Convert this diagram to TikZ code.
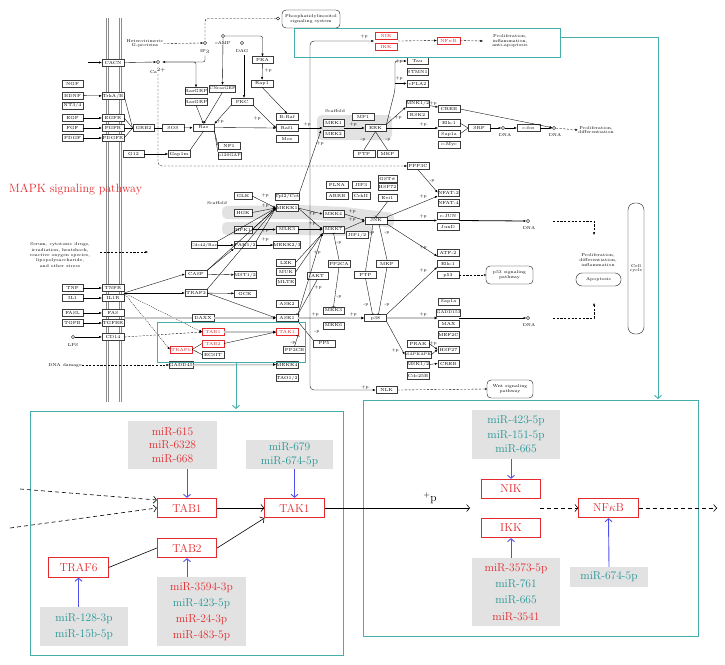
\documentclass[tikz,border=0pt]{standalone}
\usetikzlibrary{arrows.meta}
\definecolor{kred}{RGB}{228,42,46}
\definecolor{kteal}{RGB}{38,150,150}
\definecolor{tline}{RGB}{70,172,172}
\definecolor{mgray}{RGB}{226,226,226}
\definecolor{sgray}{RGB}{226,226,226}
\definecolor{hgray}{RGB}{200,200,200}
\definecolor{mblue}{RGB}{80,80,238}
\definecolor{memb}{RGB}{140,140,140}
\definecolor{kbord}{RGB}{60,60,60}
\tikzset{
 kb/.style={draw=kbord,line width=0.35pt,inner sep=0pt,minimum width=21.5pt,minimum height=7pt,fill=white,font=\fontsize{4.4}{4.8}\selectfont},
 kbr/.style={kb,draw=kred,text=kred},
 kt/.style={inner sep=0pt,align=center,font=\fontsize{4.2}{4.8}\selectfont},
 kl/.style={line width=0.35pt},
 ka/.style={kl,-{Latex[length=2.6pt,width=2.2pt]}},
 kd/.style={kl,dash pattern=on 2.2pt off 1.5pt},
 kda/.style={kd,-{Latex[length=2.6pt,width=2.2pt]}},
 kdo/.style={kd,-{Circle[open,length=2.2pt]}},
 kbar/.style={kl,-{Bar[width=3.5pt]}},
 kg/.style={draw=hgray,line width=1.5pt},
 kga/.style={kg,-{Latex[length=3pt,width=3pt,color=black]}},
 dnac/.style={circle,draw,line width=0.35pt,inner sep=0pt,minimum size=3.2pt,fill=white},
 rbox/.style={draw,line width=0.35pt,rounded corners=4pt,inner sep=0pt,align=center,font=\fontsize{4.2}{4.8}\selectfont},
 tealb/.style={draw=tline,line width=0.9pt},
 tarr/.style={tealb,-{Straight Barb[length=3pt,width=7pt]}},
 gbox/.style={draw=kred,line width=0.8pt,text=kred,minimum width=59.5pt,minimum height=19.5pt,inner sep=0pt,font=\fontsize{11.5}{13}\selectfont},
 mbox/.style={fill=mgray,inner sep=0pt,align=center},
 barr/.style={draw=mblue,line width=0.9pt,-{Straight Barb[length=3pt,width=7pt]}},
 oarr/.style={line width=0.6pt,-{Straight Barb[length=3pt,width=7pt]}},
 darr/.style={oarr,dash pattern=on 4pt off 3pt},
}
\newcommand{\kgn}[4]{\node[kb] (#1) at (#2,#3) {#4};}
\newcommand{\kgr}[4]{\node[kbr] (#1) at (#2,#3) {#4};}
\newcommand{\kgw}[5]{\node[kb,minimum width=#4] (#1) at (#2,#3) {#5};}
\begin{document}
\begin{tikzpicture}[x=1pt,y=-1pt]
\useasboundingbox (0,0) rectangle (725,664);
\fill[white] (0,0) rectangle (725,664);

% scaffold shading
\fill[sgray,rounded corners=5pt] (317,115) rectangle (392,140);
\fill[sgray,rounded corners=5pt] (222,206) -- (300,205) -- (345,207) -- (394,213) -- (394,228) -- (345,222) -- (300,219) -- (222,219) -- cycle;
\fill[sgray,rounded corners=5pt] (222,222) -- (345,222) -- (372,224) -- (372,236) -- (300,235) -- (222,235) -- cycle;

% membrane
\foreach \x in {106.5,108.5,119,121} \draw[memb,line width=0.6pt] (\x,18) -- (\x,402);

% ---------- top region ----------
\node[kt] (hetg) at (145,43.5) {Heterotrimeric\\G-proteins};
\node[dnac] (ip3) at (205,43) {};
\node[kt] (ip3l) at (205,51.5) {IP$_3$};
\node[dnac] (camp) at (223,36) {};
\node[kt] (campl) at (223,43.5) {cAMP};
\node[dnac] (dag) at (242,43) {};
\node[kt] (dagl) at (242,51) {DAG};
\node[dnac] (ca) at (158,62) {};
\node[kt] (cal) at (158,70.5) {Ca$^{2+}$};
\node[rbox,minimum width=58pt,minimum height=18pt] (phos) at (311,19) {Phosphatidylinositol\\signaling system};
\node[dnac] (phc) at (278,18.5) {};

\kgn{ngf}{72.5}{84}{NGF}
\kgn{bdnf}{72.5}{95.5}{BDNF}
\kgn{nt34}{72.5}{105.5}{NT3/4}
\kgn{egf}{72.5}{118}{EGF}
\kgn{fgf}{72.5}{128}{FGF}
\kgn{pdgf}{72.5}{138}{PDGF}
\kgw{cacn}{113}{62.5}{22}{CACN}
\kgw{trkab}{113}{96}{22}{TrkA/B}
\kgw{egfr}{113}{118}{22}{EGFR}
\kgw{fgfr}{113}{128}{22}{FGFR}
\kgw{pdgfr}{113}{138}{22}{PDGFR}
\kgn{grb2}{143.5}{128}{GRB2}
\kgn{sos}{173}{128}{SOS}
\kgn{ras}{203.5}{127.5}{Ras}
\kgn{g12}{133.5}{154}{G12}
\kgn{gap1m}{179}{154}{Gap1m}
\kgn{nf1}{229}{146}{NF1}
\node[kb,minimum width=23pt,font=\fontsize{4}{4.5}\selectfont] (p120) at (229.5,155.5) {p120GAP};
\kgn{rasgrp1}{196}{91}{RasGRP}
\kgn{rasgrp2}{196}{101.5}{RasGRP}
\node[kb,font=\fontsize{4}{4.5}\selectfont] (cnras) at (222.5,88.5) {CNrasGEF};
\kgn{pkc}{242}{101.5}{PKC}
\kgn{pka}{262.5}{60}{PKA}
\kgn{rap1}{262}{83.5}{Rap1}
\kgn{braf}{287}{117}{B-Raf}
\kgn{raf1}{287}{128}{Raf1}
\kgn{mos}{287}{139}{Mos}
\kgn{mek1}{333.5}{122.5}{MEK1}
\kgn{mek2}{333.5}{133.5}{MEK2}
\kgn{mp1}{363}{116.5}{MP1}
\kgn{erk}{375.5}{128}{ERK}
\kgn{ptpa}{364}{153.5}{PTP}
\kgn{mkpa}{387.5}{153.5}{MKP}
\kgn{tau}{417.5}{61}{Tau}
\kgn{stmn}{417.5}{72}{STMN1}
\kgn{cpla2}{417.5}{83.5}{cPLA2}
\kgn{mnk}{417.5}{103.5}{MNK1/2}
\kgn{rsk2}{417.5}{114.5}{RSK2}
\kgn{creba}{449}{109}{CREB}
\kgn{elka}{449}{123}{Elk-1}
\kgn{sapa}{449}{134}{Sap1a}
\kgn{cmyc}{449}{144.5}{c-Myc}
\kgn{srf}{479}{128}{SRF}
\kgw{cfos}{528.5}{128}{23}{c-fos}
\kgn{ppp3c}{418}{166}{PPP3C}
\node[dnac] (dna1) at (503,128) {};
\node[kt] (dna1l) at (505,135) {DNA};
\node[dnac] (dna2) at (554,128) {};
\node[kt] (dna2l) at (555,135) {DNA};
\node[kt] (prolif1) at (596,130) {Proliferation,\\differentiation};
\kgr{niks}{386}{35.5}{NIK}
\kgr{ikks}{386}{46.5}{IKK}
\node[kbr,minimum width=23pt] (nfkbs) at (448.5,40.5) {NF$\kappa$B};
\node[kt] (prolif0) at (510,41) {Proliferation,\\inflammation,\\anti-apoptosis};

\node[anchor=base west,inner sep=0pt,text=kred,font=\fontsize{12}{14}\selectfont] (title) at (9,192) {MAPK signaling pathway};

% top connectors
\draw[kda] (hetg.east) -- (ip3.west);
\draw[kd,rounded corners=3pt] (phc.west) -- (205,18.5) -- (ip3.north);
\coordinate (ip3d) at (205,55.5);
\coordinate (cae) at (162.5,62);
\draw[ka,rounded corners=2pt] (ip3d) -- (205,62) -- (cae);
\coordinate (caf) at (88,62.5);
\draw[ka] (caf) -- (cacn.west);
\draw[ka] (cacn.east) -- (ca.west);
\draw[ka,rounded corners=2pt] (cae) -- (196,62) -- (rasgrp1.north);
\draw[ka] (camp.south) -- (cnras.north);
\draw[ka,rounded corners=2pt] (camp.east) -- (262.5,36) -- (pka.north);
\coordinate (dagd) at (244,55);
\draw[ka] (dagd) -- (pkc.north -| dagd);
\coordinate (cad) at (158,74);
\draw[kda,rounded corners=4pt] (cad) -- (158,166) -- (ppp3c.west);
\foreach \a/\b in {bdnf/trkab,egf/egfr,fgf/fgfr,pdgf/pdgfr} \draw[ka] (\a) -- (\b);
\foreach \a in {trkab,egfr,fgfr,pdgfr} \draw[kl] (\a.east) -- (grb2.west);
\draw[kl] (grb2) -- (sos);
\draw[ka] (sos) -- (ras);
\draw[ka] (g12) -- (gap1m);
\draw[kl] (gap1m.north east) -- (ras.south);
\draw[kl] (nf1.west) -- (ras.south east);
\draw[kl] (p120.north west) -- (ras.south east);
\draw[ka] (rasgrp2.south) -- (ras.north);
\draw[ka] (cnras.south) -- (ras.north);
\draw[ka] (pkc.south west) -- (ras.north east);
\draw[ka] (pka) -- (rap1);
\draw[ka] (rap1.south) -- (braf.north);
\draw[ka] (pkc.south east) -- (raf1.west);
\draw[ka] (ras.east) -- (raf1.west);
\draw[ka] (raf1.east) -- (mek1.west |- raf1.east);
\draw[ka] (mek1.east |- erk.west) -- (erk.west);
\draw[kl] (erk.south) -- (ptpa.north);
\draw[kl] (erk.south) -- (mkpa.north);
\draw[ka,rounded corners=2pt] (erk.north east) -- (395,90) -- (395,61) -- (tau.west);
\draw[ka] (cpla2.west -| 395,0) -- (cpla2.west);
\draw[ka] (erk.north east) -- (mnk.south west);
\draw[ka] (mnk) -- (creba);
\draw[ka] (erk.east) -- (elka.west |- erk.east);
\draw[kl] (elka.east) -- (srf.west);
\draw[kl] (sapa.east) -- (srf.west);
\draw[ka] (srf) -- (dna1);
\draw[ka] (dna1) -- (cfos);
\draw[ka] (cfos) -- (dna2);
\draw[ka] (creba.east) -- (dna2);
\draw[kda] (dna2) -- (prolif1.west);

% long vertical connector
\coordinate (vmid) at (310,200);
\coordinate (nikin) at (374,41);
\draw[ka,rounded corners=4pt] (vmid) -- (310,41) -- (nikin);
\draw[kda] (398,41) -- (nfkbs.west);
\coordinate (nfo) at (483,41);
\draw[kda] (nfkbs.east) -- (nfo);

% teal frames (top)
\draw[tealb] (294,28) rectangle (560,57);
\coordinate (rt) at (658,399);
\draw[tarr] (560,37) -- (658,37) -- (rt);

% ---------- middle region ----------
\node[kt] (scaf1) at (335,111) {Scaffold};
\node[kt] (scaf2) at (217,203.5) {Scaffold};
\node[kt,font=\fontsize{4.2}{5.4}\selectfont] (serum) at (60,255) {Serum, cytotoxic drugs,\\irradiation, heatshock,\\reactive oxygen species,\\lipopolysaccharide,\\and other stress};
\coordinate (sa) at (100,252); \coordinate (sb) at (148,252);
\draw[kda] (sa) -- (sb);
\kgn{tnf}{72.5}{288}{TNF}
\kgn{il1}{72.5}{298}{IL1}
\kgn{fasl}{72.5}{313}{FASL}
\kgn{tgfb}{72.5}{323}{TGFB}
\node[dnac] (lps) at (73,337) {};
\node[kt] (lpsl) at (73,345) {LPS};
\kgw{tnfr}{113}{288}{22}{TNFR}
\kgw{il1r}{113}{298}{22}{IL1R}
\kgw{fas}{113}{313}{22}{FAS}
\kgw{tgfbr}{113}{323}{22}{TGFBR}
\kgw{cd14}{113}{337}{22}{CD14}
\kgw{glk}{243}{196}{18}{GLK}
\kgw{hgk}{243}{212.5}{18}{HGK}
\kgw{hpk1}{243}{229.5}{18}{HPK1}
\kgw{pak}{245}{245}{22}{PAK1/2}
\node[kb,minimum width=22pt,font=\fontsize{4}{4.5}\selectfont] (cdc42) at (204,245) {Cdc42/Rac};
\kgn{mst}{245}{275}{MST1/2}
\kgw{casp}{196}{274}{22}{CASP}
\kgw{traf2}{196}{293}{22}{TRAF2}
\kgn{gck}{245}{293.5}{GCK}
\kgn{daxx}{203}{317.5}{DAXX}
\kgr{tab1s}{213}{332}{TAB1}
\kgr{tab2s}{213}{343.5}{TAB2}
\kgn{ecsit}{213}{354.5}{ECSIT}
\node[kbr,minimum width=22pt] (traf6s) at (181,349.5) {TRAF6};
\kgw{gadd45}{181}{365}{22}{GADD45}
\kgw{tpl2}{287}{196.5}{22}{Tpl2/Cot}
\kgw{mekk1}{287}{208}{22}{MEKK1}
\kgw{mlk3}{287}{229.5}{22}{MLK3}
\kgw{mekk23}{287}{245}{22}{MEKK2/3}
\kgw{lzk}{286}{262.5}{19}{LZK}
\kgw{muk}{286}{272}{19}{MUK}
\kgw{mltk}{286}{282}{19}{MLTK}
\kgn{ask2}{287}{303.5}{ASK2}
\kgn{ask1}{287}{318}{ASK1}
\kgr{tak1s}{287}{332}{TAK1}
\kgw{pp2cb}{294.5}{350}{22}{PP2CB}
\kgn{mekk4}{287}{364.5}{MEKK4}
\kgn{tao}{287}{378}{TAO1/2}
\kgn{akt}{317.5}{275.5}{AKT}
\kgn{pp5}{324}{343.5}{PP5}
\kgw{pp2ca}{339}{263.5}{22}{PP2CA}
\kgn{mkk3}{333.5}{310.5}{MKK3}
\kgn{mkk6}{333.5}{325.5}{MKK6}
\kgn{mkk4}{333.5}{214}{MKK4}
\kgn{mkk7}{333.5}{229.5}{MKK7}
\kgn{jip12}{357}{235}{JIP1/2}
\kgw{flna}{337}{185}{22}{FLNA}
\kgw{jip3}{361}{185}{18}{JIP3}
\kgw{arrb}{337}{195.5}{22}{ARRB}
\kgw{crk}{361}{195.5}{18}{CrkII}
\kgw{gst}{387.5}{178.5}{19}{GST$\pi$}
\kgw{hsp72}{387.5}{187}{19}{HSP72}
\kgw{evi1}{387.5}{198}{19}{Evi1}
\kgw{jnk}{376}{220.5}{22}{JNK}
\kgw{ptpb}{365.5}{274.5}{22}{PTP}
\kgw{mkpb}{387}{263.5}{22}{MKP}
\kgw{p38}{375.5}{318}{22}{p38}
\kgn{nlk}{386.5}{390}{NLK}
\kgn{nfat2}{448.5}{192.5}{NFAT-2}
\kgn{nfat4}{448.5}{202.5}{NFAT-4}
\kgn{cjun}{448}{216}{c-JUN}
\kgn{jund}{448}{227}{JunD}
\kgn{atf2}{448}{252.5}{ATF-2}
\kgn{elkb}{448}{263.5}{Elk-1}
\kgn{p53}{448}{275}{p53}
\kgn{sapb}{448.5}{301.5}{Sap1a}
\node[kb,font=\fontsize{4}{4.5}\selectfont] (gadd153) at (448.5,312.5) {GADD153};
\kgn{max}{448.5}{323.5}{MAX}
\kgn{mef2c}{448.5}{334.5}{MEF2C}
\kgn{prak}{418}{343.5}{PRAK}
\node[kb,minimum width=23pt,font=\fontsize{3.8}{4.5}\selectfont] (mapkapk) at (418,354.5) {MAPKAPK};
\kgn{msk}{418}{364.5}{MSK1/2}
\kgn{cdc25b}{418}{375.5}{Cdc25B}
\kgn{hsp27}{448.5}{349.5}{HSP27}
\kgn{crebb}{448.5}{363.5}{CREB}
\node[dnac] (dna3) at (528,221) {};
\node[kt] (dna3l) at (529,228) {DNA};
\node[dnac] (dna4) at (528,318) {};
\node[kt] (dna4l) at (529,325) {DNA};
\node[rbox,minimum width=47pt,minimum height=18pt] (p53pw) at (509.5,275) {p53 signaling\\pathway};
\node[rbox,minimum width=46pt,minimum height=18pt] (wnt) at (510,389) {Wnt signaling\\pathway};
\node[kt] (prolif2) at (598,260) {Proliferation,\\differentiation,\\inflammation};
\node[rbox,minimum width=45pt,minimum height=13pt,rounded corners=6pt] (apop) at (598.5,279.5) {Apoptosis};
\node[rbox,minimum width=16pt,minimum height=131pt,rounded corners=7pt] (cellc) at (636,268.5) {Cell\\cycle};

% middle connectors
\draw[ka] (ppp3c.south) -- (nfat2.west);
\foreach \a/\b in {tnf/tnfr,il1/il1r,fasl/fas,tgfb/tgfbr,lps/cd14} \draw[ka] (\a) -- (\b);
\coordinate (tf) at (124,293);
\draw[ka] (tf) -- (casp.west);
\draw[ka] (tf) -- (traf2.west);
\draw[ka,dash pattern=on 1pt off 1pt] (tf) -- (tab1s.west);
\draw[ka,dash pattern=on 1pt off 1pt] (tf) -- (traf6s.west);
\coordinate (fasg) at (124,318);
\draw[kg] (fasg) -- (daxx.west |- fasg);
\draw[kga] (daxx.east |- ask1.west) -- (ask1.west);
\draw[kda] (cd14.east) -- (tab1s.west);
\draw[kga] (tab1s.east) -- (tak1s.west);
\draw[ka] (tab2s.east) -- (tak1s.west);
\draw[kl] (traf6s.east) -- (tab2s.west);
\draw[kl] (traf6s.east) -- (ecsit.west);
\node[kt] (dnad) at (65,365) {DNA damage};
\draw[kda] (dnad.east) -- (gadd45.west);
\draw[kga] (gadd45.east) -- (mekk4.west);
\draw[ka] (traf2.east) -- (ask1.west);
\draw[ka] (traf2) -- (gck);
\draw[ka] (casp) -- (mst);
\draw[ka] (casp.north east) -- (pak.south west);
\draw[kl] (casp.north east) -- (mekk1.west);
\draw[kl] (traf2.north east) -- (mekk1.west);
\draw[ka] (cdc42) -- (pak);
\draw[kl] (cdc42.north east) -- (mekk1.west);
\draw[ka] (pak.north east) -- (mekk1.west);
\draw[ka] (glk.east) -- (mekk1.west);
\draw[ka] (hgk.east) -- (mekk1.west);
\draw[ka] (hpk1.east) -- (mekk1.west);
\draw[ka] (hpk1) -- (mlk3);
\draw[ka] (pak) -- (mekk23);
\draw[ka] (tpl2.north east) -- (321,130.5);
\draw[ka] (mekk1.east) -- (mkk4.west);
\draw[ka] (mekk1.east) -- (mkk7.west);
\draw[ka] (mlk3) -- (mkk7);
\draw[ka] (mkk4.east) -- (jnk.west);
\draw[ka] (mkk7.east) -- (jnk.west);
\draw[kl] (lzk.east) -- (mkk7.south west);
\draw[ka] (muk.east) -- (mkk7.south west);
\draw[ka] (ask1.north east) -- (mkk7.south west);
\draw[kbar] (akt.south) -- (ask1.north east);
\draw[kbar] (pp2ca.north) -- (mkk7.south);
\draw[kbar] (pp2ca.south) -- (mkk3.north);
\draw[kbar] (pp5.north west) -- (ask1.south east);
\draw[kbar] (pp2cb.north) -- (tak1s.south east);
\draw[kga] (ask1.east) -- (p38.west);
\draw[kbar] (evi1.south) -- (jnk.north);
\draw[ka] (jnk.north east) -- (nfat2.south west);
\draw[ka,line width=0.8pt] (jnk.east) -- (cjun.west |- jnk.east);
\draw[ka,line width=0.8pt] (cjun.east |- jnk.east) -- (dna3.west);
\draw[ka] (jnk.south east) -- (atf2.south west);
\draw[kl] ([xshift=-3pt]jnk.south) -- (ptpb.north);
\draw[kbar] (ptpb.south) -- ([xshift=-3pt]p38.north);
\draw[kl] ([xshift=3pt]jnk.south) -- (mkpb.north);
\draw[kbar] (mkpb.south) -- ([xshift=3pt]p38.north);
\draw[ka] (p38.north east) -- (elkb.south west);
\draw[kga] (p38.east) -- (sapb.west |- p38.east);
\draw[ka] (sapb.east |- p38.east) -- (dna4.west);
\draw[ka] (p38.south east) -- (mapkapk.west);
\draw[ka] (prak.east) -- (hsp27.west);
\draw[ka] (mapkapk.east) -- (hsp27.west);
\draw[ka] (msk.east) -- (crebb.west);
\draw[kdo] (p53.east) -- (p53pw.west);
\draw[ka,rounded corners=4pt] (vmid) -- (310,390) -- (nlk.west);
\draw[kdo] (nlk.east) -- (wnt.west);
\coordinate (d3a) at (553,221); \coordinate (d3b) at (594,235);
\draw[kda] (d3a) -- (594,221) -- (d3b);
\coordinate (d4a) at (553,318); \coordinate (d4b) at (594,303);
\draw[kda] (d4a) -- (594,318) -- (d4b);

% +p / -p labels
\foreach \x/\y/\lab [count=\i] in {268/71/+p,257/119/+p,220/122/+p,307/125/+p,353/125/+p,320/144/+p,399/62/+p,399/79/+p,398/118/+p,433/104/+p,423/125/+p,364/37/+p,432/181/-p,363/140/-p,388/140/-p,265/196/+p,265/206/+p,265/231/+p,265/240/+p,312/214/+p,312/224/+p,352/212/+p,352/220/+p,317/253/+p,318/288/+p,339/243/-p,339/297/-p,315/315/+p,353/315/+p,317/332/-p,293/343/-p,423/197/+p,423/217/+p,423/248/+p,372/233/-p,387/233/-p,366/305/-p,387/305/-p,423/271/+p,423/315/+p,395/350/+p,433/344/+p,365/387/+p}
  \node[kt] (pl\i) at (\x,\y) {\lab};

% small teal frame
\draw[tealb] (157,322) rectangle (305,362);
\coordinate (lt) at (236,409);
\draw[tarr] (236,362) -- (lt);

% ---------- bottom panels ----------
\draw[tealb] (30,411) rectangle (343,655);
\draw[tealb] (363,400) rectangle (698,636);

\node[gbox] (tab1) at (187,508) {TAB1};
\node[gbox] (tak1) at (294.5,508) {TAK1};
\node[gbox] (tab2) at (187,548) {TAB2};
\node[gbox] (traf6) at (78.5,567.5) {TRAF6};
\node[gbox] (nik) at (511,489) {NIK};
\node[gbox] (ikk) at (511,528) {IKK};
\node[gbox] (nfkb) at (608.5,508) {NF$\kappa$B};

\node[mbox,minimum width=89pt,minimum height=48pt,text=kred,font=\fontsize{11.5}{13.6}\selectfont] (m1) at (172.5,445) {miR-615\\miR-6328\\miR-668};
\node[mbox,minimum width=87pt,minimum height=29pt,text=kteal,font=\fontsize{11.5}{14}\selectfont] (m2) at (289.5,454.5) {miR-679\\miR-674-5p};
\node[mbox,minimum width=89pt,minimum height=69pt,font=\fontsize{11.5}{16}\selectfont] (m3) at (201.5,611.5) {\textcolor{kred}{miR-3594-3p}\\\textcolor{kteal}{miR-423-5p}\\\textcolor{kred}{miR-24-3p}\\\textcolor{kred}{miR-483-5p}};
\node[mbox,minimum width=88pt,minimum height=39pt,text=kteal,font=\fontsize{11.5}{16}\selectfont] (m4) at (84,626.5) {miR-128-3p\\miR-15b-5p};
\node[mbox,minimum width=88pt,minimum height=49pt,text=kteal,font=\fontsize{11.5}{14.5}\selectfont] (m5) at (516,434.5) {miR-423-5p\\miR-151-5p\\miR-665};
\node[mbox,minimum width=88pt,minimum height=68pt,font=\fontsize{11.5}{16.3}\selectfont] (m6) at (516,592) {\textcolor{kred}{miR-3573-5p}\\\textcolor{kteal}{miR-761}\\\textcolor{kteal}{miR-665}\\\textcolor{kred}{miR-3541}};
\node[mbox,minimum width=78pt,minimum height=20pt,text=kteal,font=\fontsize{11.5}{14}\selectfont] (m7) at (609,577) {miR-674-5p};

\draw[barr] (m1.south -| tab1.north) -- (tab1.north);
\draw[barr] (m2.south -| tak1.north) -- (tak1.north);
\draw[barr] (m3.north -| tab2.south) -- (tab2.south);
\draw[barr] (m4.north -| traf6.south) -- (traf6.south);
\draw[barr] (m5.south -| nik.north) -- (nik.north);
\draw[barr] (m6.north -| ikk.south) -- (ikk.south);
\draw[barr] (m7.north) -- (nfkb.south);

\draw[oarr] (tab1.east) -- (tak1.west);
\draw[line width=0.6pt] (traf6.east) -- (tab2.west);
\draw[oarr] (tab2.east) -- (tak1.south west);
\coordinate (d1) at (20,489);
\coordinate (d2) at (10,528);
\draw[darr] (d1) -- ([yshift=8pt]tab1.west);
\draw[darr] (d2) -- (tab1.west);
\coordinate (np) at (470,508);
\draw[oarr] (tak1.east) -- (np);
\node[inner sep=0pt,font=\fontsize{11.5}{13}\selectfont] (plbig) at (430,498) {$^{+}$p};
\coordinate (nk) at (540,508);
\draw[darr] (nk) -- (nfkb.west);
\coordinate (ne) at (717,508);
\draw[darr] (nfkb.east) -- (ne);
\end{tikzpicture}
\end{document}
